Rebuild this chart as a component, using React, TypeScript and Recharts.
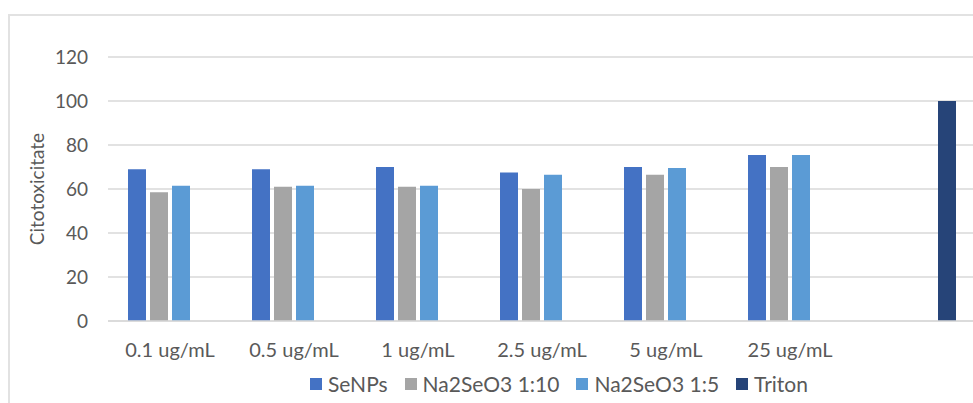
import React from 'react';
import { BarChart, Bar, XAxis, YAxis, CartesianGrid, Legend } from 'recharts';

// concentrations on the x axis; the last slot is the Triton control
const doses = ['0.1 ug/mL', '0.5 ug/mL', '1 ug/mL', '2.5 ug/mL', '5 ug/mL', '25 ug/mL', ''];

const seNPs = [69, 69, 70, 67.5, 70, 75.5, null];
const na2SeO3_10 = [58.5, 61, 61, 60, 66.5, 70, null];
const na2SeO3_5 = [61.5, 61.5, 61.5, 66.5, 69.5, 75.5, null];
const triton = [null, null, null, null, null, null, 100];

const yTicks = [0, 20, 40, 60, 80, 100, 120];

const series = [
  { key: 'seNPs', name: 'SeNPs', color: '#4472C4' },
  { key: 'na10', name: 'Na2SeO3 1:10', color: '#A5A5A5' },
  { key: 'na5', name: 'Na2SeO3 1:5', color: '#5B9BD5' },
  { key: 'triton', name: 'Triton', color: '#264478' },
];

const rows = doses.map((dose, i) => ({
  dose,
  seNPs: seNPs[i],
  na10: na2SeO3_10[i],
  na5: na2SeO3_5[i],
  triton: triton[i],
}));

const FONT = 'Lato, "Open Sans", sans-serif';
const TEXT = '#595959';
const GRID = '#d9d9d9';

const LegendRow = () => (
  <div style={{ display: 'flex', alignItems: 'center', fontFamily: FONT, fontSize: 21, color: TEXT, lineHeight: '24px' }}>
    {series.map((s) => (
      <div key={s.key} style={{ display: 'flex', alignItems: 'center', marginRight: 17 }}>
        <span style={{ width: 12, height: 12, background: s.color, marginRight: 6, display: 'inline-block' }} />
        <span>{s.name}</span>
      </div>
    ))}
  </div>
);

const AxisTitle = (props: any) => {
  const { viewBox } = props;
  const x = viewBox.x + 36;
  const y = viewBox.y + viewBox.height / 2;
  return (
    <text
      x={x}
      y={y}
      transform={`rotate(-90, ${x}, ${y})`}
      textAnchor="middle"
      dominantBaseline="central"
      fill={TEXT}
      fontFamily={FONT}
      fontSize={19}
    >
      Citotoxicitate
    </text>
  );
};

export default function App() {
  return (
    <div style={{ position: 'fixed', left: 0, top: 0, width: 973, height: 403, overflow: 'hidden', background: '#fff' }}>
      <div
        style={{
          position: 'absolute',
          left: 8,
          top: 14,
          width: 1100,
          height: 500,
          border: '2px solid #e2e2e2',
        }}
      />
      <div style={{ position: 'absolute', left: 0, top: 0 }}>
        <BarChart
          width={990}
          height={403}
          data={rows}
          margin={{ top: 57, right: 14, bottom: 52, left: 0 }}
          barSize={18}
          barGap={4}
        >
          <CartesianGrid vertical={false} stroke={GRID} strokeWidth={1.5} />
          <XAxis
            dataKey="dose"
            height={30}
            tickLine={false}
            tickSize={0}
            tickMargin={22}
            axisLine={{ stroke: GRID, strokeWidth: 1.5 }}
            tick={{ fill: TEXT, fontFamily: FONT, fontSize: 20 }}
            interval={0}
          />
          <YAxis
            width={108}
            domain={[0, 120]}
            ticks={yTicks}
            axisLine={false}
            tickLine={false}
            tickSize={0}
            tickMargin={20}
            tick={{ fill: TEXT, fontFamily: FONT, fontSize: 19 }}
            label={{ content: AxisTitle }}
          />
          <Legend
            verticalAlign="middle"
            align="center"
            layout="horizontal"
            wrapperStyle={{ left: 310, top: 372, width: 'auto' }}
            content={() => <LegendRow />}
          />
          {series.map((s) => (
            <Bar key={s.key} dataKey={s.key} name={s.name} fill={s.color} isAnimationActive={false} />
          ))}
        </BarChart>
      </div>
    </div>
  );
}
